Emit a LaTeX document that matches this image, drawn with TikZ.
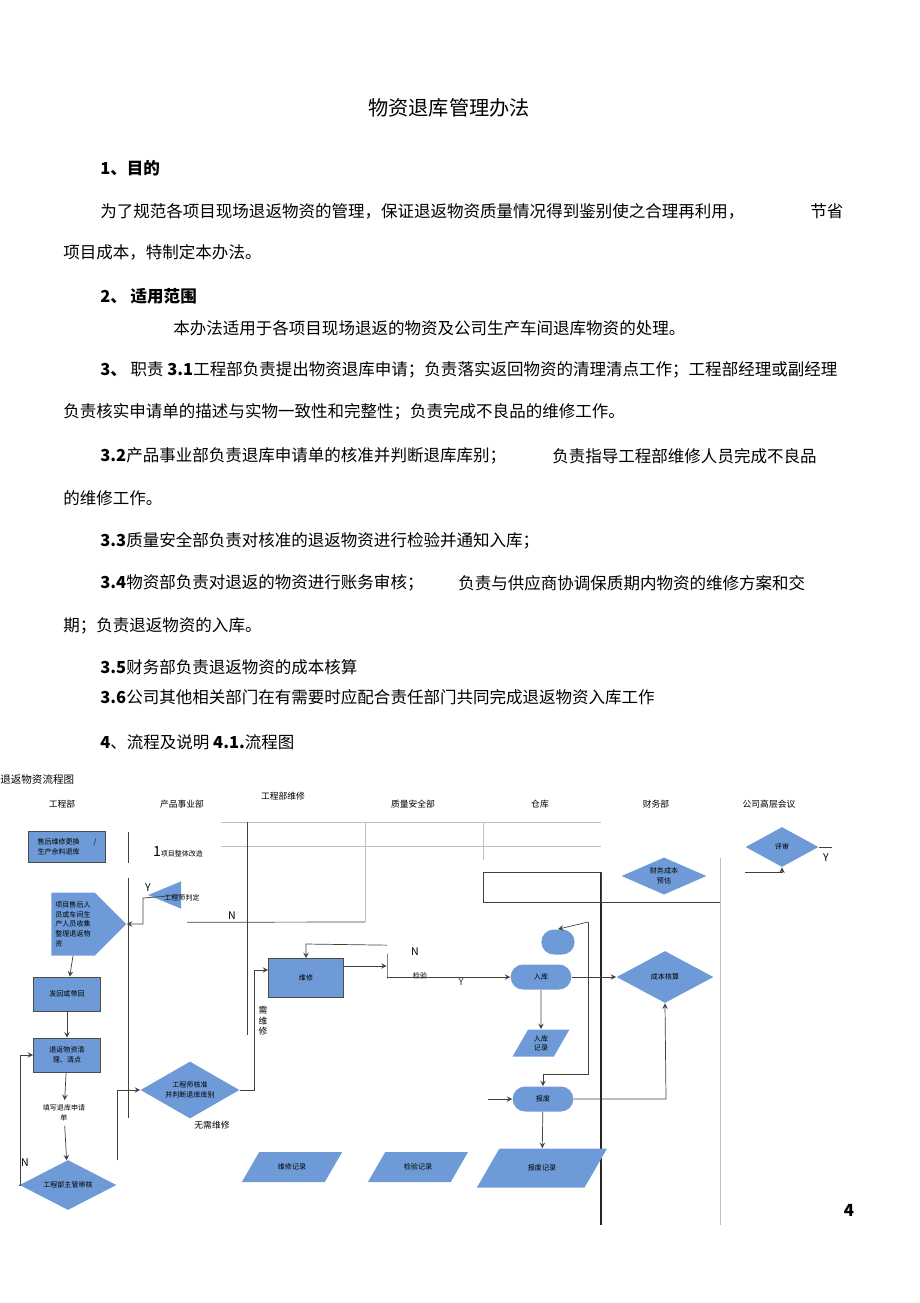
\documentclass[tikz,border=0pt]{standalone}
\usepackage{fontspec}
\setmainfont{Noto Sans CJK SC}
\usetikzlibrary{shapes.geometric, shapes.misc, shapes.symbols, arrows}
\definecolor{flowblue}{RGB}{110,155,215}
\tikzstyle{txt} = [anchor=west, inner sep=0pt, font=\fontsize{9.4}{11}\selectfont]
\tikzstyle{lane} = [inner sep=0pt, font=\fontsize{5}{6}\selectfont]
\tikzstyle{process} = [rectangle, fill=flowblue, draw=black!70, align=left, inner sep=1pt, font=\fontsize{4}{5.5}\selectfont]
\tikzstyle{decision} = [diamond, aspect=1.8, fill=flowblue, inner sep=1pt, align=center, font=\fontsize{4}{5.5}\selectfont]
\tikzstyle{startstop} = [rounded rectangle, fill=flowblue, minimum width=1.45cm, minimum height=0.5cm, font=\fontsize{4}{5}\selectfont]
\tikzstyle{io} = [trapezium, trapezium left angle=60, trapezium right angle=120, fill=flowblue, minimum height=0.6cm, align=center, font=\fontsize{4}{5}\selectfont]
\tikzstyle{arrow} = [thin,->,>=stealth, black!75]
\tikzstyle{line} = [thin,-, black!75]
\tikzstyle{grid} = [thin, black!25]
\begin{document}
\begin{tikzpicture}[x=0.02cm, y=-0.02cm]
    \useasboundingbox (0,0) rectangle (920,1303);
    % text of the page
    \node (title) [txt, anchor=center, font=\fontsize{11.5}{13}\selectfont] at (449,108) {物资退库管理办法};
    \node (s1) [txt, font=\bfseries\fontsize{9.4}{11}\selectfont] at (100,168) {1、目的};
    \node (p1) [txt] at (100,211) {为了规范各项目现场退返物资的管理，保证退返物资质量情况得到鉴别使之合理再利用，};
    \node (p1b) [txt] at (810,211) {节省};
    \node (p1c) [txt] at (63,252) {项目成本，特制定本办法。};
    \node (s2) [txt, font=\bfseries\fontsize{9.4}{11}\selectfont] at (100,296) {2、 适用范围};
    \node (p2) [txt] at (173,328) {本办法适用于各项目现场退返的物资及公司生产车间退库物资的处理。};
    \node (p3) [txt] at (100,370) {\textbf{3、} 职责 \textbf{3.1}工程部负责提出物资退库申请；负责落实返回物资的清理清点工作；工程部经理或副经理};
    \node (p3b) [txt] at (63,412) {负责核实申请单的描述与实物一致性和完整性；负责完成不良品的维修工作。};
    \node (p4) [txt] at (100,456) {\textbf{3.2}产品事业部负责退库申请单的核准并判断退库库别；};
    \node (p4b) [txt] at (552,456) {负责指导工程部维修人员完成不良品};
    \node (p4c) [txt] at (63,498) {的维修工作。};
    \node (p5) [txt] at (100,541) {\textbf{3.3}质量安全部负责对核准的退返物资进行检验并通知入库；};
    \node (p6) [txt] at (100,583) {\textbf{3.4}物资部负责对退返的物资进行账务审核；};
    \node (p6b) [txt] at (458,583) {负责与供应商协调保质期内物资的维修方案和交};
    \node (p6c) [txt] at (63,626) {期；负责退返物资的入库。};
    \node (p7) [txt] at (100,667) {\textbf{3.5}财务部负责退返物资的成本核算};
    \node (p8) [txt] at (100,697) {\textbf{3.6}公司其他相关部门在有需要时应配合责任部门共同完成退返物资入库工作};
    \node (s4) [txt] at (100,742) {\textbf{4}、流程及说明 \textbf{4.1.}流程图};
    \node (pageno) [txt, anchor=center, font=\bfseries\fontsize{9.5}{10}\selectfont] at (849,1210) {4};

    % lanes
    \node (chart) [lane, anchor=west, font=\fontsize{6}{7}\selectfont] at (0,779) {退返物资流程图};
    \node (l1) [lane] at (62,804) {工程部};
    \node (l2) [lane] at (182,804) {产品事业部};
    \node (l3) [lane] at (283,796) {工程部维修};
    \node (l4) [lane] at (413,804) {质量安全部};
    \node (l5) [lane] at (540,804) {仓库};
    \node (l6) [lane] at (656,804) {财务部};
    \node (l7) [lane] at (769,804) {公司高层会议};
    \draw [grid] (221,822) -- (601,822);
    \draw [grid] (221,846) -- (601,846);
    \draw [grid] (365,822) -- (365,922);
    \draw [grid] (483,822) -- (483,860);
    \draw [line] (128,832) -- (128,863);
    \draw [line] (128,878) -- (128,1118);
    \draw [line] (247,822) -- (247,1035);
    \draw [grid] (720,858) -- (720,1225);
    \draw [very thick, black!85] (601,873) -- (601,1225);

    % nodes
    \node (origin) [process, minimum width=1.54cm, minimum height=0.62cm] at (67,847) {售后维修更换\qquad/\\生产余料退库};
    \node (reform) [lane, font=\fontsize{4}{5}\selectfont] at (178,852) {{\fontsize{8}{8}\selectfont 1}项目整体改造};
    \node (collect) [signal, signal to=east, fill=flowblue, minimum width=1.5cm, minimum height=1.26cm, inner sep=1pt, align=left, font=\fontsize{4}{5.5}\selectfont] at (73,924) {项目售后人\\员或车间生\\产人员收集\\整理退返物\\资};
    \node (judge) [isosceles triangle, shape border rotate=180, fill=flowblue, minimum height=0.66cm, minimum width=0.5cm, inner sep=0pt] at (172,895) {};
    \node (judgetxt) [lane, font=\fontsize{4}{5}\selectfont] at (182,898) {工程师判定};
    \node (sendback) [process, minimum width=1.34cm, minimum height=0.68cm] at (67,994) {发回或带回};
    \node (clean) [process, minimum width=1.34cm, minimum height=0.68cm, align=center] at (67,1055) {退返物资清\\理、清点};
    \node (apply) [process, draw=none, fill=white, align=center, minimum height=0.5cm] at (64,1113) {填写退库申请\\单};
    \node (check) [decision, minimum width=1.94cm, minimum height=1cm] at (68,1185) {工程部主管审核};
    \node (approve) [decision, minimum width=1.98cm, minimum height=1.14cm] at (190,1090) {工程师核准\\并判断退库库别};
    \node (norepair) [lane, font=\fontsize{5}{6}\selectfont] at (212,1125) {无需维修};
    \node (repair) [process, align=center, minimum width=1.5cm, minimum height=0.78cm] at (306,978) {维修};
    \node (needrepair) [lane, align=center, font=\fontsize{5}{6}\selectfont] at (263,1021) {需\\维\\修};
    \node (inspect) [lane, font=\fontsize{4}{5}\selectfont] at (420,976) {检验};
    \node (inspectl) [line, draw, minimum height=0.5cm, minimum width=0cm, inner sep=0pt] at (387,966) {};
    \node (repairrec) [io, minimum width=1.2cm] at (292,1167) {维修记录};
    \node (inspectrec) [io, minimum width=1.3cm] at (418,1167) {检验记录};
    \node (review) [decision, minimum width=1.46cm, minimum height=0.8cm] at (782,847) {评审};
    \node (estimate) [decision, minimum width=1.7cm, minimum height=0.7cm] at (664,876) {财务成本\\预估};
    \node (wait) [startstop, minimum width=0.9cm] at (558,942) {};
    \node (stock) [startstop] at (541,977) {入库};
    \node (cost) [decision, minimum width=1.94cm, minimum height=1.04cm] at (665,977) {成本核算};
    \node (stockrec) [io, minimum width=1.1cm, minimum height=0.52cm] at (541,1043) {入库\\记录};
    \node (scrap) [startstop] at (543,1099) {报废};
    \node (scraprec) [io, minimum width=1.7cm, minimum height=0.78cm] at (542,1168) {报废记录};
    \coordinate (scrapin) at (488,1099);
    \coordinate (keep) at (483,872);
    \coordinate (nend) at (365,922);

    % connectors
    \draw [arrow] (judge.east) -- (143,898) -- (143,924) -- (collect.east);
    \draw [line] (judge.south) ++(15,17) -- (nend);
    \node (nlab0) [lane, font=\fontsize{6}{6}\selectfont] at (232,916) {N};
    \node (ylab) [lane, font=\fontsize{6}{6}\selectfont] at (148,888) {Y};
    \draw [arrow] (collect.south) -- (sendback);
    \draw [arrow] (sendback) -- (clean);
    \draw [arrow] (clean) -- (apply);
    \draw [arrow] (apply) -- (check);
    \draw [arrow] (check.west) -- (20,1185) -- (20,1055) -- (clean.west);
    \node (nlab) [lane, font=\fontsize{6}{6}\selectfont] at (25,1163) {N};
    \draw [arrow] (117,1160) -- (117,1090) -- (approve.west);
    \draw [arrow] (approve.east) -- (254,1090) -- (254,970) -- (repair.west |- 0,970);
    \draw [arrow] (repair.east |- 0,966) -- (inspectl.west |- 0,966);
    \draw [arrow] (inspectl.north) ++(0,-8) -- (306,944) -- (repair.north);
    \node (nlab2) [lane, font=\fontsize{6}{6}\selectfont] at (415,952) {N};
    \draw [arrow] (inspectl.east |- 0,977) -- (stock.west) node[pos=0.6, below, lane, font=\fontsize{6}{6}\selectfont] {Y};
    \draw [arrow] (stock.east) -- (cost.west);
    \draw [arrow] (stock) -- (stockrec);
    \draw [arrow] (588,922) -- (wait.north);
    \draw [arrow] (588,922) -- (588,1074) -- (543,1074) -- (scrap.north);
    \draw [arrow] (scrapin) -- (scrap.west);
    \draw [arrow] (scrap.east) -- (666,1099) -- (cost.south);
    \draw [arrow] (scrap) -- (scraprec);
    \draw [line] (keep) rectangle (601,902);
    \draw [line] (601,902) -- (720,902);
    \draw [arrow] (745,872) -- (review.south |- 0,872) -- (review.south);
    \draw [line] (review.east) -- (832,847);
    \node (ylab2) [lane, font=\fontsize{6}{6}\selectfont] at (826,858) {Y};
\end{tikzpicture}
\end{document}
